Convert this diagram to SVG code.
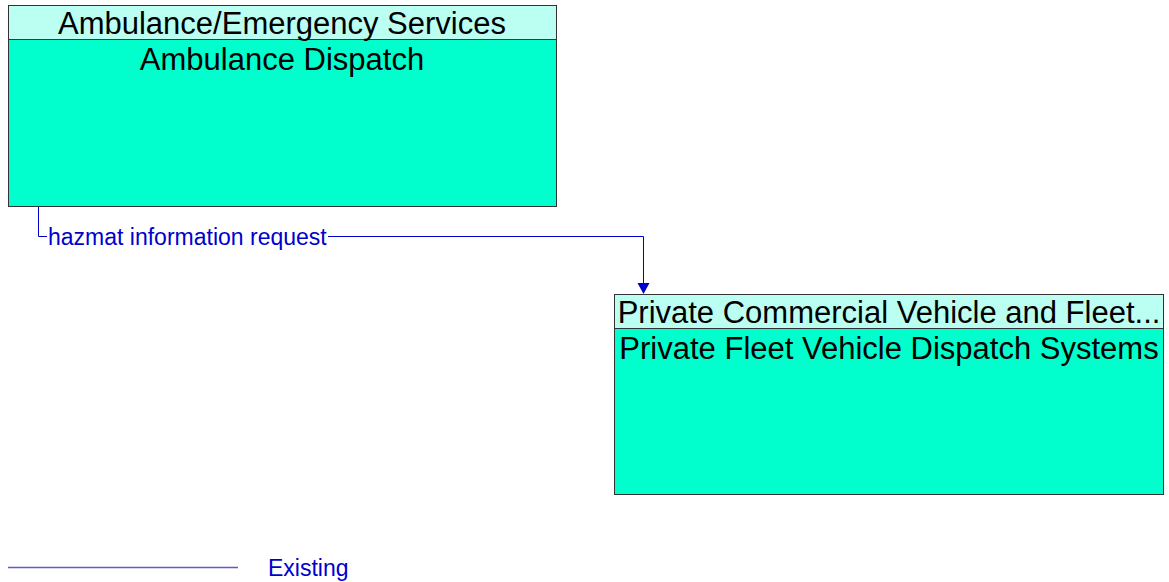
<svg xmlns="http://www.w3.org/2000/svg" width="1169" height="582" viewBox="0 0 1169 582">
<style>
.hdr{fill:#bafff2;stroke:#333;stroke-width:1}
.body{fill:#00ffcc;stroke:#333;stroke-width:1}
.t{font-family:"Liberation Sans",Arial,sans-serif;font-size:31px;fill:#000;text-anchor:middle}
.lbl{font-family:"Liberation Sans",Arial,sans-serif;font-size:23px;fill:#0000cc}
.conn{fill:none;stroke:#0000cc;stroke-width:1}
</style>
<g id="ambulance">
<rect class="body" x="8.5" y="5.5" width="548" height="201"/>
<rect class="hdr" x="8.5" y="5.5" width="548" height="34"/>
<text class="t" x="282" y="34">Ambulance/Emergency Services</text>
<text class="t" x="282" y="70">Ambulance Dispatch</text>
</g>
<g id="private">
<rect class="body" x="614.5" y="294.5" width="549" height="200"/>
<rect class="hdr" x="614.5" y="294.5" width="549" height="34"/>
<text class="t" x="889" y="323">Private Commercial Vehicle and Fleet...</text>
<text class="t" x="889" y="359">Private Fleet Vehicle Dispatch Systems</text>
</g>
<g id="connectors">
<polyline class="conn" points="38.5,207 38.5,236.5 643.5,236.5 643.5,284"/>
<path d="M637.5,283 L649.5,283 L643.5,294 Z" fill="#0000cc"/>
<rect x="47" y="226" width="281" height="22" fill="#fff"/>
<text class="lbl" x="48" y="245">hazmat information request</text>
</g>
<g id="legend">
<line x1="8" y1="567.5" x2="238" y2="567.5" stroke="#5c5ccc" stroke-width="1.5"/>
<text class="lbl" x="268" y="576">Existing</text>
</g>
</svg>
